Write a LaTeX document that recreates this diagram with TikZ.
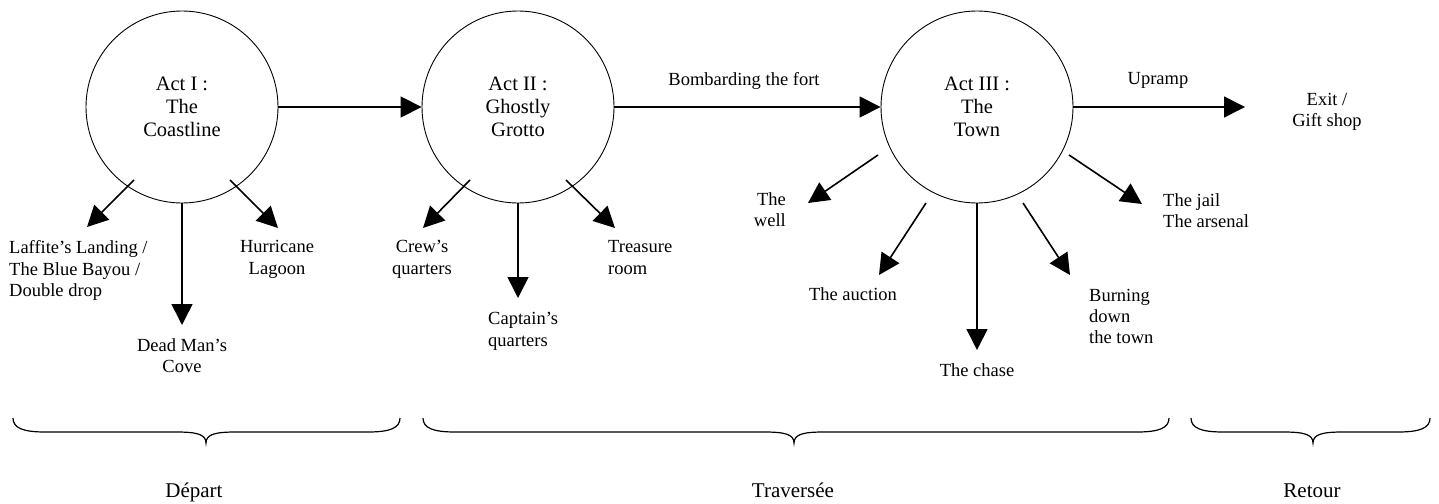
\documentclass[tikz,border=0pt]{standalone}
\usepackage{fontspec}
\setmainfont{Liberation Serif}
\usetikzlibrary{arrows.meta}
\newcommand\mybracepath[3]{% left, tip, right
  \draw[brc] (#1,418) .. controls (#1,428) and (#1+10,432) .. (#1+32,432)
    -- (#2-30,432) .. controls (#2-10,432) and (#2,434) .. (#2,443)
    .. controls (#2,434) and (#2+10,432) .. (#2+30,432)
    -- (#3-32,432) .. controls (#3-10,432) and (#3,428) .. (#3,418);}
\begin{document}
\begin{tikzpicture}[x=1pt,y=-1pt,
  act/.style={circle,draw,line width=0.9pt,minimum size=192pt,inner sep=0pt,align=center,font=\fontsize{20.5}{23}\selectfont},
  lbl/.style={inner sep=0pt,font=\fontsize{18.5}{21.5}\selectfont},
  arr/.style={line width=1.6pt,-{Triangle[length=21pt,width=21pt]}},
  brc/.style={line width=1.2pt},
  part/.style={inner sep=0pt,font=\fontsize{21}{24}\selectfont}]
\useasboundingbox (0,0) rectangle (1439,503);

% acts
\node[act] (c1) at (182,107) {Act I :\\The\\Coastline};
\node[act] (c2) at (518,107) {Act II :\\Ghostly\\Grotto};
\node[act] (c3) at (977,107) {Act III :\\The\\Town};
\coordinate (ex) at (1245,107);

\draw[arr] (c1) -- (c2);
\draw[arr] (c2) -- (c3);
\draw[arr] (c3) -- (ex);

\node[lbl,anchor=base] (bomb) at (744,85) {Bombarding the fort};
\node[lbl,anchor=base] (up) at (1158,84) {Upramp};
\node[lbl,anchor=north,align=center] (exit) at (1327,93) {Exit /\\Gift shop};

% Act I branches
\coordinate (a1s) at (134,180); \coordinate (a1e) at (87,227);
\coordinate (a2e) at (182,325);
\coordinate (a3s) at (230,180); \coordinate (a3e) at (278,228);
\draw[arr] (a1s) -- (a1e);
\draw[arr] (c1.south) -- (a2e);
\draw[arr] (a3s) -- (a3e);
\node[lbl,anchor=north west,align=left] (laff) at (9,240.3) {Laffite’s Landing /\\The Blue Bayou /\\Double drop};
\node[lbl,anchor=north,align=center] (dead) at (182,338.3) {Dead Man’s\\Cove};
\node[lbl,anchor=north,align=center] (hurr) at (277,240.3) {Hurricane\\Lagoon};

% Act II branches
\coordinate (b1s) at (470,180); \coordinate (b1e) at (423,228);
\coordinate (b2e) at (518,298);
\coordinate (b3s) at (566,180); \coordinate (b3e) at (615,228);
\draw[arr] (b1s) -- (b1e);
\draw[arr] (c2.south) -- (b2e);
\draw[arr] (b3s) -- (b3e);
\node[lbl,anchor=north,align=center] (crew) at (422,240.3) {Crew’s\\quarters};
\node[lbl,anchor=north west,align=left] (capt) at (488,312.3) {Captain’s\\quarters};
\node[lbl,anchor=north west,align=left] (treas) at (608,240.3) {Treasure\\room};

% Act III branches
\coordinate (d1s) at (878,155); \coordinate (d1e) at (808,203);
\coordinate (d2s) at (926,203); \coordinate (d2e) at (879,275);
\coordinate (d3e) at (977,350);
\coordinate (d4s) at (1023,203); \coordinate (d4e) at (1070,275);
\coordinate (d5s) at (1069,155); \coordinate (d5e) at (1142,204);
\draw[arr] (d1s) -- (d1e);
\draw[arr] (d2s) -- (d2e);
\draw[arr] (c3.south) -- (d3e);
\draw[arr] (d4s) -- (d4e);
\draw[arr] (d5s) -- (d5e);
\node[lbl,anchor=north east,align=right] (well) at (786,192.3) {The\\well};
\node[lbl,anchor=north,align=center] (auct) at (853,287.3) {The auction};
\node[lbl,anchor=north,align=center] (chase) at (977,363.3) {The chase};
\node[lbl,anchor=north west,align=left,font=\fontsize{18.5}{21}\selectfont] (burn) at (1089,289.3) {Burning\\down\\the town};
\node[lbl,anchor=north west,align=left] (jail) at (1163,193.3) {The jail\\The arsenal};

% braces
\mybracepath{13}{206}{400}
\mybracepath{423}{794}{1169}
\mybracepath{1191}{1313}{1430}
\node[part,anchor=base] (dep) at (194,497) {Départ};
\node[part,anchor=base] (trav) at (793,497) {Traversée};
\node[part,anchor=base] (ret) at (1312,497) {Retour};
\end{tikzpicture}
\end{document}
